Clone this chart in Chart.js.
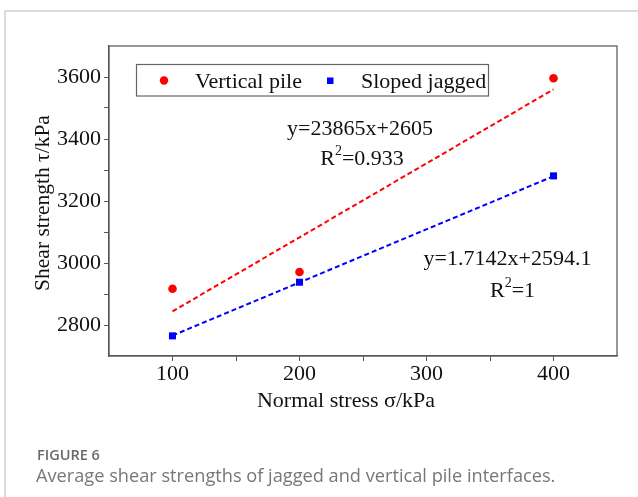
<!DOCTYPE html>
<html>
<head>
<meta charset="utf-8">
<script src="https://cdn.jsdelivr.net/npm/chart.js@4/dist/chart.umd.min.js"></script>
<style>
  html, body { margin: 0; padding: 0; background: #ffffff; }
  #wrap { position: relative; width: 638px; height: 497px; overflow: hidden; }
  #card { position: absolute; left: 4px; top: 10px; width: 700px; height: 600px;
          border-top: 2px solid #dcdcdc; border-left: 2px solid #dcdcdc; box-sizing: border-box; }
  #c { position: absolute; left: 0; top: 0; }
  #fig { position: absolute; left: 37px; top: 445px; font-family: "Open Sans", sans-serif;
         font-size: 14.5px; font-weight: 600; color: #6a6a6a; line-height: 20px; }
  #cap { position: absolute; left: 36px; top: 462px; font-family: "Open Sans", sans-serif;
         font-size: 18.2px; color: #777777; line-height: 26px; white-space: nowrap; }
</style>
</head>
<body>
<div id="wrap">
  <div id="card"></div>
  <canvas id="c" width="638" height="497"></canvas>
  <div id="fig">FIGURE 6</div>
  <div id="cap">Average shear strengths of jagged and vertical pile interfaces.</div>
</div>
<script>
// ---- data ----
const normalStress = [100, 200, 400];
const verticalPile = [2917, 2971, 3596];
const slopedJagged = [2765, 2938, 3281];
const fitX = [100, 400];
const fitVertical = [2844, 3560];
const fitSloped = [2766, 3280];
const seriesNames = ["Vertical pile", "Sloped jagged"];
const xTicks = [100, 200, 300, 400];
const yTicks = [2800, 3000, 3200, 3400, 3600];
const eqVertical = ["y=23865x+2605", "0.933"];
const eqSloped = ["y=1.7142x+2594.1", "1"];
const xTitle = "Normal stress σ/kPa";
const yTitle = "Shear strength τ/kPa";

const SERIF = '"Liberation Serif", "Times New Roman", serif';
const pts = (xs, ys) => xs.map((x, i) => ({x: x, y: ys[i]}));

const boxPlugin = {
  id: 'boxAndText',
  afterDatasetsDraw(chart) {
    const ctx = chart.ctx;
    const a = chart.chartArea;
    ctx.save();
    // plot frame
    ctx.strokeStyle = '#555';
    ctx.lineWidth = 1.2;
    ctx.strokeRect(a.left, a.top, a.right - a.left, a.bottom - a.top);

    // legend box
    ctx.strokeStyle = '#666';
    ctx.lineWidth = 1.2;
    ctx.strokeRect(136.5, 64.5, 352, 31.5);
    ctx.fillStyle = '#ff0000';
    ctx.beginPath(); ctx.arc(164, 80.5, 4.2, 0, Math.PI * 2); ctx.fill();
    ctx.fillStyle = '#0000ff';
    ctx.fillRect(327, 77.5, 6.5, 6.5);
    ctx.fillStyle = '#111';
    ctx.font = '22px ' + SERIF;
    ctx.textBaseline = 'alphabetic';
    ctx.textAlign = 'left';
    ctx.fillText(seriesNames[0], 195, 88);
    ctx.fillText(seriesNames[1], 361, 88);

    // axis titles
    ctx.textAlign = 'center';
    ctx.textBaseline = 'middle';
    ctx.fillText(xTitle, 346, 401);
    ctx.save();
    ctx.translate(43, 203);
    ctx.rotate(-Math.PI / 2);
    ctx.font = '21.5px ' + SERIF;
    ctx.fillText(yTitle, 0, 0);
    ctx.restore();
    ctx.textBaseline = 'alphabetic';

    // equations
    const drawR2 = (cx, base, val) => {
      const big = '22px ' + SERIF, small = '14px ' + SERIF;
      ctx.font = big; const wR = ctx.measureText('R').width;
      const wRest = ctx.measureText('=' + val).width;
      ctx.font = small; const w2 = ctx.measureText('2').width;
      let x = cx - (wR + w2 + wRest) / 2;
      ctx.textAlign = 'left';
      ctx.font = big; ctx.fillText('R', x, base); x += wR;
      ctx.font = small; ctx.fillText('2', x, base - 10); x += w2;
      ctx.font = big; ctx.fillText('=' + val, x, base);
    };
    ctx.font = '22px ' + SERIF;
    ctx.textAlign = 'center';
    ctx.fillText(eqVertical[0], 360, 135);
    drawR2(362, 165, eqVertical[1]);
    ctx.font = '22px ' + SERIF;
    ctx.textAlign = 'center';
    ctx.fillText(eqSloped[0], 507.5, 265);
    drawR2(512.5, 296.5, eqSloped[1]);
    ctx.restore();
  }
};

const edgeTick = (lo, hi) => (c) => (c.tick && (c.tick.value === lo || c.tick.value === hi)) ? 'rgba(0,0,0,0)' : '#555';

new Chart(document.getElementById('c'), {
  type: 'scatter',
  data: {
    datasets: [
      { type: 'line', label: 'fit1', data: pts(fitX, fitVertical), borderColor: '#ff0000',
        borderWidth: 2, borderDash: [5, 3], pointRadius: 0, fill: false },
      { type: 'line', label: 'fit2', data: pts(fitX, fitSloped), borderColor: '#0000ff',
        borderWidth: 2, borderDash: [5, 3], pointRadius: 0, fill: false },
      { label: seriesNames[0], data: pts(normalStress, verticalPile), pointStyle: 'circle',
        pointRadius: 4.3, backgroundColor: '#ff0000', borderColor: '#ff0000', borderWidth: 0 },
      { label: seriesNames[1], data: pts(normalStress, slopedJagged), pointStyle: 'rect',
        pointRadius: 5, backgroundColor: '#0000ff', borderColor: '#0000ff', borderWidth: 0 }
    ]
  },
  options: {
    responsive: false,
    animation: false,
    devicePixelRatio: 1,
    layout: { padding: { top: 46, right: 21, left: 0, bottom: 0 } },
    plugins: { legend: { display: false }, tooltip: { enabled: false } },
    scales: {
      x: {
        type: 'linear', min: 50, max: 450,
        afterFit: s => { s.height = 141; },
        ticks: { stepSize: 50, padding: 2, color: '#111',
          font: { family: SERIF, size: 22, lineHeight: 1 },
          callback: v => xTicks.includes(v) ? String(v) : '' },
        grid: { drawOnChartArea: false, drawTicks: true, tickLength: 5, color: '#555',
          tickColor: edgeTick(50, 450) },
        border: { display: true, color: '#555', width: 1.2 },
        title: { display: false }
      },
      y: {
        type: 'linear', min: 2700, max: 3700,
        afterFit: s => { s.width = 109; },
        ticks: { stepSize: 100, padding: 3, color: '#111',
          font: { family: SERIF, size: 22, lineHeight: 1 },
          callback: v => yTicks.includes(v) ? String(v) : '' },
        grid: { drawOnChartArea: false, drawTicks: true, tickLength: 5, color: '#555',
          tickColor: edgeTick(2700, 3700) },
        border: { display: true, color: '#555', width: 1.2 },
        title: { display: false }
      }
    }
  },
  plugins: [boxPlugin]
});
</script>
</body>
</html>
